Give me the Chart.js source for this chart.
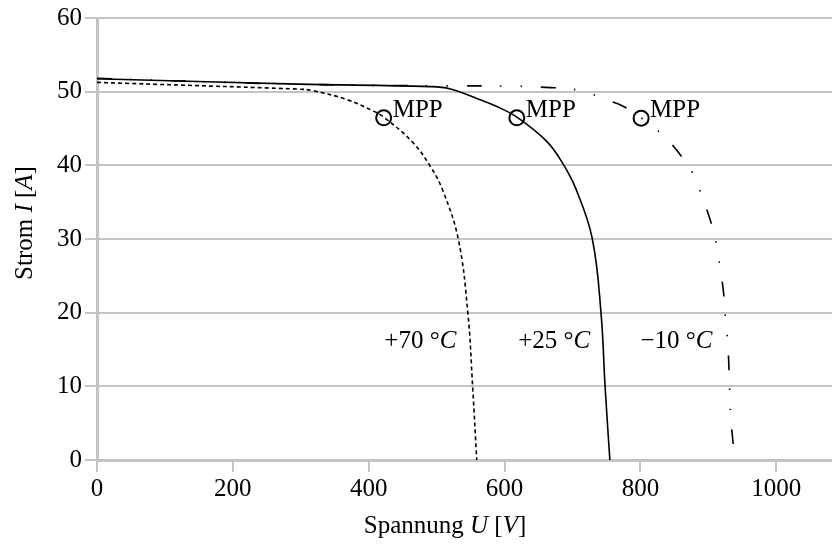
<!DOCTYPE html>
<html>
<head>
<meta charset="utf-8">
<script src="https://cdn.jsdelivr.net/npm/chart.js@4.4.1/dist/chart.umd.min.js"></script>
<style>
  html, body { margin: 0; padding: 0; background: #fff; }
  #wrap { width: 832px; height: 546px; position: relative; }
</style>
</head>
<body>
<div id="wrap"><canvas id="ivChart"></canvas></div>
<script>
// I-U Kennlinien bei drei Temperaturen
const u70 = [0, 295, 317, 367, 406, 422, 465, 490, 509, 532, 546, 553, 559];
const i70 = [51.26, 50.35, 50.15, 48.95, 47.4, 46.55, 43.1, 39.95, 36.6, 29.9, 19.9, 9.9, 0];

const u25 = [0, 295, 490, 519, 563, 593, 618, 662, 686, 705, 729, 742, 748, 755];
const i25 = [51.76, 51.03, 50.69, 50.4, 48.95, 47.8, 46.55, 43.25, 40.2, 36.8, 30.1, 19.9, 9.9, 0];

const uMinus10 = [0, 300, 500, 612, 667, 696, 726, 748, 773, 801, 822, 841, 858, 875, 891, 904, 911, 918, 923, 925, 928.5, 931, 933, 937, 938];
const iMinus10 = [51.8, 51.0, 50.8, 50.75, 50.55, 50.4, 49.75, 48.95, 48.1, 46.45, 45.0, 43.4, 41.5, 39.3, 35.7, 32.2, 29.6, 25.7, 22.2, 19.5, 15.9, 10.7, 5.7, 1.7, 0];

// MPP-Punkte
const mppU = [422, 618, 801];
const mppI = [46.45, 46.45, 46.4];

// Temperaturbeschriftungen (Mitte x, Grundlinie y in Datenwerten)
const tempLabels = [["+70 °", "C"], ["+25 °", "C"], ["\u221210 °", "C"]];
const tempLabelU = [476, 673, 853];
const tempLabelI = [15.2, 15.2, 15.2];

const xTicks = [0, 200, 400, 600, 800, 1000];
const yTicks = [0, 10, 20, 30, 40, 50, 60];

const serif = "'Liberation Serif', 'DejaVu Serif', serif";
const gridGray = "#c4c4c4";

function toPoints(xs, ys) {
  return xs.map((x, i) => ({ x, y: ys[i] }));
}

// Text aus Teilen mit unterschiedlichem Schriftschnitt
function richWidth(ctx, parts) {
  let w = 0;
  parts.forEach(([text, italic]) => {
    ctx.font = (italic ? "italic " : "") + "25px " + serif;
    w += ctx.measureText(text).width;
  });
  return w;
}

function drawRich(ctx, parts, x, y) {
  let cx = x - richWidth(ctx, parts) / 2;
  parts.forEach(([text, italic]) => {
    ctx.font = (italic ? "italic " : "") + "25px " + serif;
    ctx.fillText(text, cx, y);
    cx += ctx.measureText(text).width;
  });
}

const labelPlugin = {
  id: "labelPlugin",
  afterDraw(chart) {
    const { ctx, scales: { x, y } } = chart;
    ctx.save();
    ctx.fillStyle = "#000";
    ctx.textBaseline = "alphabetic";
    ctx.textAlign = "left";

    // MPP
    ctx.font = "25px " + serif;
    mppU.forEach((u, i) => {
      ctx.fillText("MPP", x.getPixelForValue(u) + 9, y.getPixelForValue(mppI[i]) - 1);
    });

    // Temperaturen
    tempLabels.forEach((parts, i) => {
      drawRich(ctx, [[parts[0], false], [parts[1], true]],
        x.getPixelForValue(tempLabelU[i]), y.getPixelForValue(tempLabelI[i]));
    });

    // Achsentitel
    drawRich(ctx, [["Spannung ", false], ["U", true], [" [", false], ["V", true], ["]", false]], 445, 533);

    ctx.translate(32, 223);
    ctx.rotate(-Math.PI / 2);
    drawRich(ctx, [["Strom ", false], ["I", true], [" [", false], ["A", true], ["]", false]], 0, 0);
    ctx.restore();
  }
};

const lineStyle = {
  showLine: true,
  pointRadius: 0,
  borderColor: "#000",
  borderWidth: 1.6,
  fill: false,
  tension: 0.4
};

new Chart(document.getElementById("ivChart"), {
  type: "scatter",
  data: {
    datasets: [
      { ...lineStyle, label: "+70 °C", data: toPoints(u70, i70), borderDash: [4, 3] },
      { ...lineStyle, label: "+25 °C", data: toPoints(u25, i25) },
      { ...lineStyle, label: "-10 °C", data: toPoints(uMinus10, iMinus10), borderDash: [15, 18, 1.5, 19, 1.5, 19] },
      {
        label: "MPP",
        data: toPoints(mppU, mppI),
        showLine: false,
        pointStyle: "circle",
        pointRadius: 7.5,
        pointBorderWidth: 2,
        pointBorderColor: "#000",
        pointBackgroundColor: "rgba(0,0,0,0)"
      }
    ]
  },
  options: {
    responsive: true,
    maintainAspectRatio: false,
    animation: false,
    layout: { autoPadding: false, padding: { top: 16, right: 0, bottom: 0, left: 0 } },
    plugins: {
      legend: { display: false },
      tooltip: { enabled: false }
    },
    scales: {
      x: {
        type: "linear",
        min: 0,
        max: 1082,
        afterBuildTicks: (scale) => { scale.ticks = xTicks.map((v) => ({ value: v })); },
        afterFit: (scale) => {
          scale.height = 86;
          scale.paddingLeft = 0;
          scale.paddingRight = 0;
        },
        grid: { drawOnChartArea: false, color: gridGray, lineWidth: 2, tickLength: 12 },
        border: { color: gridGray, width: 3 },
        ticks: {
          color: "#000",
          padding: 2,
          maxRotation: 0,
          font: { family: serif, size: 25 },
          callback: (value) => String(value)
        }
      },
      y: {
        min: 0,
        max: 60,
        afterBuildTicks: (scale) => { scale.ticks = yTicks.map((v) => ({ value: v })); },
        afterFit: (scale) => { scale.width = 97; },
        grid: { color: gridGray, lineWidth: 2, tickLength: 12 },
        border: { color: gridGray, width: 3 },
        ticks: { color: "#000", padding: 3, font: { family: serif, size: 25 } }
      }
    }
  },
  plugins: [labelPlugin]
});
</script>
</body>
</html>
